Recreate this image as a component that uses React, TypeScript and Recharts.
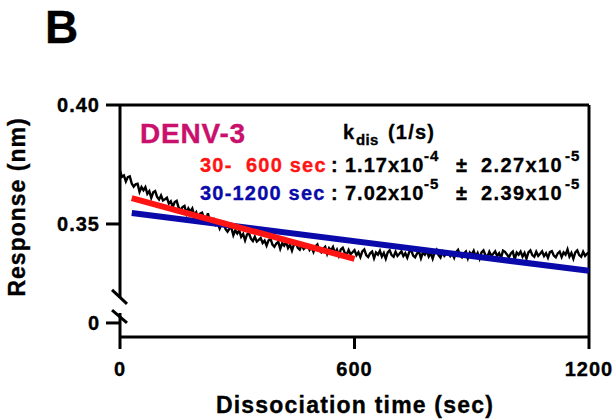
import React from 'react';
import { LineChart, Line, XAxis, YAxis, ReferenceLine } from 'recharts';

// Dissociation trace, sampled every 5 s from 0 to 1200 s (nm)
const TRACE_T0 = 0;
const TRACE_DT = 5;
const TRACE_VALUES = [
  0.3724, 0.3698, 0.3704, 0.3679, 0.3697, 0.3700, 0.3670, 0.3657, 0.3667, 0.3669,
  0.3635, 0.3655, 0.3642, 0.3655, 0.3627, 0.3638, 0.3610, 0.3633, 0.3638, 0.3614,
  0.3603, 0.3620, 0.3599, 0.3604, 0.3610, 0.3586, 0.3595, 0.3572, 0.3592, 0.3597,
  0.3569, 0.3559, 0.3571, 0.3576, 0.3544, 0.3565, 0.3552, 0.3565, 0.3537, 0.3549,
  0.3521, 0.3544, 0.3548, 0.3524, 0.3513, 0.3545, 0.3509, 0.3514, 0.3520, 0.3496,
  0.3504, 0.3481, 0.3501, 0.3507, 0.3479, 0.3468, 0.3480, 0.3484, 0.3453, 0.3473,
  0.3460, 0.3473, 0.3446, 0.3458, 0.3431, 0.3456, 0.3461, 0.3438, 0.3428, 0.3446,
  0.3426, 0.3433, 0.3441, 0.3420, 0.3430, 0.3409, 0.3431, 0.3438, 0.3413, 0.3404,
  0.3418, 0.3425, 0.3396, 0.3419, 0.3409, 0.3424, 0.3399, 0.3413, 0.3388, 0.3414,
  0.3421, 0.3400, 0.3392, 0.3413, 0.3395, 0.3403, 0.3412, 0.3391, 0.3403, 0.3383,
  0.3406, 0.3414, 0.3389, 0.3381, 0.3396, 0.3404, 0.3375, 0.3398, 0.3388, 0.3403,
  0.3378, 0.3392, 0.3367, 0.3393, 0.3400, 0.3379, 0.3371, 0.3391, 0.3373, 0.3381,
  0.3390, 0.3369, 0.3381, 0.3361, 0.3385, 0.3393, 0.3369, 0.3361, 0.3377, 0.3384,
  0.3356, 0.3380, 0.3371, 0.3387, 0.3363, 0.3378, 0.3354, 0.3381, 0.3389, 0.3369,
  0.3362, 0.3383, 0.3366, 0.3375, 0.3385, 0.3365, 0.3377, 0.3358, 0.3382, 0.3391,
  0.3367, 0.3360, 0.3376, 0.3384, 0.3356, 0.3380, 0.3371, 0.3387, 0.3363, 0.3378,
  0.3354, 0.3381, 0.3392, 0.3369, 0.3359, 0.3383, 0.3366, 0.3375, 0.3379, 0.3365,
  0.3377, 0.3358, 0.3382, 0.3391, 0.3367, 0.3360, 0.3376, 0.3384, 0.3356, 0.3380,
  0.3371, 0.3387, 0.3363, 0.3378, 0.3354, 0.3381, 0.3389, 0.3369, 0.3362, 0.3383,
  0.3366, 0.3375, 0.3385, 0.3365, 0.3377, 0.3358, 0.3388, 0.3383, 0.3372, 0.3360,
  0.3376, 0.3384, 0.3352, 0.3380, 0.3371, 0.3384, 0.3363, 0.3378, 0.3354, 0.3381,
  0.3389, 0.3369, 0.3362, 0.3383, 0.3366, 0.3375, 0.3385, 0.3365, 0.3377, 0.3358,
  0.3382, 0.3386, 0.3367, 0.3360, 0.3376, 0.3384, 0.3361, 0.3380, 0.3371, 0.3393,
  0.3363, 0.3378, 0.3354, 0.3381, 0.3389, 0.3369, 0.3362, 0.3383, 0.3366, 0.3375,
  0.3380,
];

// linear fits (start/end of window)
const RED_FIT_T = [30, 600];
const RED_FIT_V = [0.3609, 0.3353];
const BLUE_FIT_T = [30, 1200];
const BLUE_FIT_V = [0.3546, 0.3303];

// broken y axis: lower part squeezed, "0" sits just under the break
const Y_MIN = 0.3025;
const Y_MAX = 0.40;
const Y_TICKS = [0.3084, 0.35, 0.40];
const Y_TICK_LABELS = ['0', '0.35', '0.40'];
const X_TICKS = [0, 600, 1200];

const FONT = '"Liberation Sans", Arial, Helvetica, sans-serif';
const RED = '#FF1414';
const BLUE = '#0A0AAA';
const MAGENTA = '#C8106C';

const traceData = TRACE_VALUES.map((v, i) => ({ t: TRACE_T0 + i * TRACE_DT, v }));
const redData = RED_FIT_T.map((t, i) => ({ t, v: RED_FIT_V[i] }));
const blueData = BLUE_FIT_T.map((t, i) => ({ t, v: BLUE_FIT_V[i] }));

// bold text with a hairline outline so it reads as heavy as the scanned figure
const T = ({ fill = '#000', children, ...rest }: any) => (
  <text fill={fill} stroke={fill} strokeWidth={0.35} {...rest}>{children}</text>
);

const XTick = (props: any) => (
  <T x={props.x} y={props.y} dy="0.71em" textAnchor="middle"
    fontFamily={FONT} fontWeight={700} fontSize={20} letterSpacing={1}>
    {props.payload.value}
  </T>
);

const YTick = (props: any) => {
  const idx = Y_TICKS.indexOf(props.payload.value);
  return (
    <T x={props.x} y={props.y} dy="0.355em" textAnchor="end"
      fontFamily={FONT} fontWeight={700} fontSize={20} letterSpacing={1}>
      {idx >= 0 ? Y_TICK_LABELS[idx] : ''}
    </T>
  );
};

// one row of the k_dis table
const FitRow = ({ y, label, color, k, err, kExp, errExp }: any) => (
  <g>
    <T x={200} y={y} fontSize={20} fill={color} letterSpacing={1.2} style={{ whiteSpace: 'pre' }}>{label}</T>
    <T x={331} y={y} fontSize={20}>:</T>
    <T x={345} y={y} fontSize={20} letterSpacing={1}>{k}</T>
    <T x={424} y={y - 11} fontSize={15} letterSpacing={1}>{kExp}</T>
    <T x={456} y={y} fontSize={20}>±</T>
    <T x={481} y={y} fontSize={20} letterSpacing={1.4}>{err}</T>
    <T x={565} y={y - 11} fontSize={15} letterSpacing={1}>{errExp}</T>
  </g>
);

const axisStroke = { stroke: '#000', strokeWidth: 3 };

export default function App() {
  return (
    <div style={{ position: 'absolute', left: 0, top: 0, width: 615, height: 420, background: '#fff' }}>
      <LineChart width={615} height={420} margin={{ top: 105, right: 26, bottom: 0, left: 0 }}>
        <XAxis dataKey="t" type="number" domain={[0, 1200]} ticks={X_TICKS} height={83}
          axisLine={axisStroke} tickLine={axisStroke} tickSize={12} tickMargin={13} tick={<XTick />} />
        <YAxis type="number" domain={[Y_MIN, Y_MAX]} ticks={Y_TICKS} width={120} allowDataOverflow
          axisLine={false} tickLine={axisStroke} tickSize={14} tickMargin={6} tick={<YTick />} />

        {/* frame */}
        <ReferenceLine y={Y_MAX} stroke="#000" strokeWidth={3} />
        <ReferenceLine x={1200} stroke="#000" strokeWidth={3} />
        {/* left axis with break */}
        <ReferenceLine segment={[{ x: 0, y: Y_MAX }, { x: 0, y: 0.3193 }]} stroke="#000" strokeWidth={3} />
        <ReferenceLine segment={[{ x: 0, y: 0.3126 }, { x: 0, y: Y_MIN }]} stroke="#000" strokeWidth={3} />
        <ReferenceLine segment={[{ x: -20.4, y: 0.3223 }, { x: 17.9, y: 0.3164 }]} stroke="#000" strokeWidth={3} ifOverflow="visible" />
        <ReferenceLine segment={[{ x: -20.4, y: 0.3138 }, { x: 17.9, y: 0.3084 }]} stroke="#000" strokeWidth={3} ifOverflow="visible" />

        <Line data={traceData} dataKey="v" type="linear" stroke="#000" strokeWidth={2.4}
          dot={false} isAnimationActive={false} />
        <Line data={blueData} dataKey="v" type="linear" stroke={BLUE} strokeWidth={6}
          dot={false} isAnimationActive={false} />
        <Line data={redData} dataKey="v" type="linear" stroke={RED} strokeWidth={6}
          dot={false} isAnimationActive={false} />
      </LineChart>

      <svg width={615} height={420} style={{ position: 'absolute', left: 0, top: 0, pointerEvents: 'none' }}
        fontFamily={FONT} fontWeight={700}>
        <T x={45} y={43} fontSize={46}>B</T>

        <T transform="translate(25,207) rotate(-90)" textAnchor="middle" fontSize={23} letterSpacing={1}>
          Response (nm)
        </T>
        <T x={355} y={413} textAnchor="middle" fontSize={23} letterSpacing={1.2}>
          Dissociation time (sec)
        </T>

        <T x={140} y={143} fontSize={28} fill={MAGENTA} letterSpacing={0.8}>DENV-3</T>

        <T x={343} y={139} fontSize={20}>k</T>
        <T x={356} y={145} fontSize={15} letterSpacing={0.3}>dis</T>
        <T x={388} y={139} fontSize={20} letterSpacing={1.2}>(1/s)</T>

        <FitRow y={172} label={'30-  600 sec'} color={RED} k="1.17x10" kExp="-4" err="2.27x10" errExp="-5" />
        <FitRow y={200} label="30-1200 sec" color={BLUE} k="7.02x10" kExp="-5" err="2.39x10" errExp="-5" />
      </svg>
    </div>
  );
}
